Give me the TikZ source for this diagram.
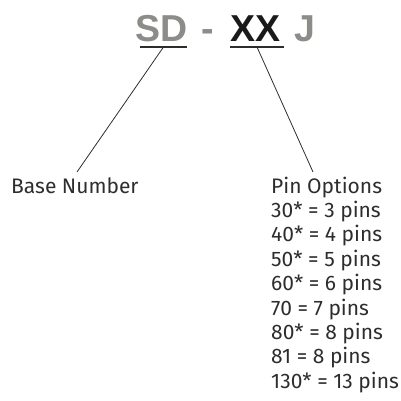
\documentclass[tikz,border=0pt]{standalone}
\usepackage{fontspec}
\usepackage{tikz}
\usetikzlibrary{calc}
\setmainfont{Fira Sans}
\newfontfamily\codefont{Liberation Sans}

\definecolor{codegray}{RGB}{140,140,137}
\definecolor{codedark}{RGB}{26,26,26}
\definecolor{labeltext}{RGB}{45,45,45}

\tikzset{
  code/.style={anchor=base west, inner sep=0pt, font=\codefont\bfseries\fontsize{37.5}{40}\selectfont},
  label/.style={anchor=base west, inner sep=0pt, text=labeltext, font=\fontsize{21}{24}\selectfont},
  uline/.style={line width=1.6pt, draw=labeltext},
  lead/.style={line width=0.8pt, draw=labeltext}
}

\begin{document}
\begin{tikzpicture}[x=1pt, y=-1pt]
\useasboundingbox (0,0) rectangle (401,400);

% part number
\node[code, text=codegray] (sd) at (135,41) {SD};
\node[code, text=codegray] (dash) at (201.5,41) {-};
\node[code, text=codedark] (xx) at (230,41) {XX};
\node[code, text=codegray] (jj) at (294,41) {J};

% underlines
\coordinate (sdl) at (140,47);
\coordinate (sdr) at (187,47);
\coordinate (xxl) at (230,47);
\coordinate (xxr) at (284,47);
\coordinate (sdmid) at ($(sdl)!0.5!(sdr)$);
\coordinate (xxmid) at ($(xxl)!0.5!(xxr)$);
\draw[uline] (sdl) -- (sdr);
\draw[uline] (xxl) -- (xxr);

% labels
\node[label] (base) at (11,193) {Base Number};
\node[label] (pin) at (271,193) {Pin Options};
\node[label] (opt1) at (271,217.4) {30* = 3 pins};
\node[label] (opt2) at (271,241.8) {40* = 4 pins};
\node[label] (opt3) at (271,266.2) {50* = 5 pins};
\node[label] (opt4) at (271,290.6) {60* = 6 pins};
\node[label] (opt5) at (271,315) {70 = 7 pins};
\node[label] (opt6) at (271,339.4) {80* = 8 pins};
\node[label] (opt7) at (271,363.8) {81 = 8 pins};
\node[label] (opt8) at (271,388.2) {130* = 13 pins};

% leaders
\coordinate (baseend) at (77,172);
\coordinate (pinend) at (313,172);
\draw[lead] (sdmid) -- (baseend);
\draw[lead] (xxmid) -- (pinend);
\end{tikzpicture}
\end{document}
